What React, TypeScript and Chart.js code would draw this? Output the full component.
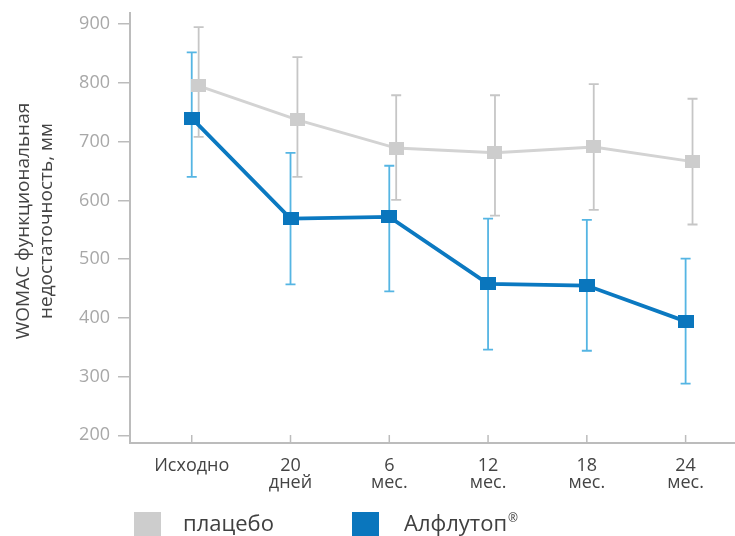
import React, { useEffect, useRef } from "react";
import { Chart, registerables } from "chart.js";

Chart.register(...registerables);

// ---- data ----
const categories: string[][] = [
  ["Исходно"],
  ["20", "дней"],
  ["6", "мес."],
  ["12", "мес."],
  ["18", "мес."],
  ["24", "мес."],
];
const seriesNames = ["плацебо", "Алфлутоп®"];
const placeboMean = [795, 737, 689, 681, 691, 666];
const placeboUpper = [895, 844, 779, 779, 798, 773];
const placeboLower = [708, 640, 601, 574, 584, 559];
const alflutopMean = [740, 569, 572, 458, 455, 394];
const alflutopUpper = [852, 681, 659, 569, 567, 501];
const alflutopLower = [640, 457, 445, 346, 344, 288];
const yTicks = [200, 300, 400, 500, 600, 700, 800, 900];
const yTitle = ["WOMAC функциональная", "недостаточность, мм"];

// ---- style ----
const FONT = "'Open Sans', 'Noto Sans', sans-serif";
const GRAY_LINE = "#d3d3d3";
const GRAY_MARK = "#cdcdcd";
const GRAY_ERR = "#c6c6c6";
const BLUE_LINE = "#0b79c1";
const BLUE_MARK = "#0a76bd";
const BLUE_ERR = "#55b5e3";
const AXIS = "#bcbcbc";
const DODGE_PLACEBO = 0.07;
const DODGE_ALFLUTOP = 0;

function makeMarker(color: string, w: number, h: number) {
  const c = document.createElement("canvas");
  c.width = w;
  c.height = h;
  const g = c.getContext("2d")!;
  g.fillStyle = color;
  g.fillRect(0, 0, w, h);
  return c;
}

export default function App() {
  const ref = useRef<HTMLCanvasElement | null>(null);

  useEffect(() => {
    document.body.style.margin = "0";
    const canvas = ref.current!;
    const grayMarker = makeMarker(GRAY_MARK, 15, 13);
    const blueMarker = makeMarker(BLUE_MARK, 16, 13);

    const errSets = [
      { upper: placeboUpper, lower: placeboLower, color: GRAY_ERR, dodge: DODGE_PLACEBO },
      { upper: alflutopUpper, lower: alflutopLower, color: BLUE_ERR, dodge: DODGE_ALFLUTOP },
    ];

    const errorBars = {
      id: "errorBars",
      beforeDatasetsDraw(chart: any) {
        const { ctx, scales } = chart;
        const xs = scales.x;
        const ys = scales.y;
        ctx.save();
        errSets.forEach((s) => {
          ctx.strokeStyle = s.color;
          ctx.lineWidth = 1.8;
          s.upper.forEach((u, i) => {
            const x = xs.getPixelForValue(i + s.dodge);
            const yt = ys.getPixelForValue(u);
            const yb = ys.getPixelForValue(s.lower[i]);
            ctx.beginPath();
            ctx.moveTo(x, yt);
            ctx.lineTo(x, yb);
            ctx.moveTo(x - 5, yt);
            ctx.lineTo(x + 5, yt);
            ctx.moveTo(x - 5, yb);
            ctx.lineTo(x + 5, yb);
            ctx.stroke();
          });
        });
        // x tick marks pointing up into the plot
        ctx.strokeStyle = AXIS;
        ctx.lineWidth = 1.5;
        const bottom = chart.chartArea.bottom;
        categories.forEach((_, i) => {
          const x = xs.getPixelForValue(i);
          ctx.beginPath();
          ctx.moveTo(x, bottom);
          ctx.lineTo(x, bottom - 8);
          ctx.stroke();
        });
        ctx.restore();
      },
    };

    const decorations = {
      id: "decorations",
      afterDraw(chart: any) {
        const { ctx } = chart;
        ctx.save();
        // y axis title
        ctx.fillStyle = "#444444";
        ctx.font = `19px ${FONT}`;
        ctx.textAlign = "center";
        ctx.textBaseline = "middle";
        const titleX = [24, 47];
        yTitle.forEach((t, i) => {
          ctx.save();
          ctx.translate(titleX[i], 221);
          ctx.rotate(-Math.PI / 2);
          ctx.fillText(t, 0, 0);
          ctx.restore();
        });
        // legend
        const legendBoxX = [134, 352];
        const legendTextX = [183, 404];
        const colors = [GRAY_MARK, BLUE_MARK];
        ctx.textAlign = "left";
        ctx.textBaseline = "alphabetic";
        seriesNames.forEach((name, i) => {
          ctx.fillStyle = colors[i];
          ctx.fillRect(legendBoxX[i], 512, 27, 26);
          ctx.fillStyle = "#404040";
          ctx.font = `22px ${FONT}`;
          const hasMark = name.endsWith("®");
          const main = hasMark ? name.slice(0, -1) : name;
          ctx.fillText(main, legendTextX[i], 531);
          if (hasMark) {
            const w = ctx.measureText(main).width;
            ctx.font = `12px ${FONT}`;
            ctx.fillText("®", legendTextX[i] + w + 1, 522);
          }
        });
        ctx.restore();
      },
    };

    const chart = new Chart(canvas, {
      type: "line",
      data: {
        datasets: [
          {
            label: seriesNames[0],
            data: placeboMean.map((v, i) => ({ x: i + DODGE_PLACEBO, y: v })),
            borderColor: GRAY_LINE,
            borderWidth: 3,
            pointStyle: grayMarker as any,
            pointRadius: 8,
            order: 2,
          },
          {
            label: seriesNames[1],
            data: alflutopMean.map((v, i) => ({ x: i + DODGE_ALFLUTOP, y: v })),
            borderColor: BLUE_LINE,
            borderWidth: 3.8,
            pointStyle: blueMarker as any,
            pointRadius: 8,
            order: 1,
          },
        ],
      },
      options: {
        responsive: false,
        animation: false,
        layout: { autoPadding: false, padding: { top: 13, left: 0, right: 0, bottom: 0 } },
        plugins: {
          legend: { display: false },
          tooltip: { enabled: false },
        },
        scales: {
          x: {
            type: "linear",
            min: -0.625,
            max: 5.5,
            afterBuildTicks: (s: any) => {
              s.ticks = categories.map((_, i) => ({ value: i }));
            },
            afterFit: (s: any) => {
              s.height = 93;
              s.paddingLeft = 0;
              s.paddingRight = 0;
            },
            ticks: {
              autoSkip: false,
              maxRotation: 0,
              padding: 14,
              color: "#444444",
              font: { family: FONT, size: 18, lineHeight: 0.95 },
              callback: (v: any) => categories[Math.round(Number(v))] as any,
            },
            grid: { display: false, drawTicks: false },
            border: { display: true, color: AXIS, width: 2 },
          },
          y: {
            type: "linear",
            min: 187,
            max: 919,
            afterBuildTicks: (s: any) => {
              s.ticks = yTicks.map((v) => ({ value: v }));
            },
            afterFit: (s: any) => {
              s.width = 130;
              s.paddingTop = 0;
              s.paddingBottom = 0;
            },
            ticks: {
              padding: 8,
              color: "#a8a8a8",
              font: { family: FONT, size: 18 },
            },
            grid: {
              drawOnChartArea: false,
              drawTicks: true,
              tickLength: 12,
              color: AXIS,
              lineWidth: 1.5,
            },
            border: { display: true, color: AXIS, width: 2 },
          },
        },
      },
      plugins: [errorBars, decorations],
    });

    return () => chart.destroy();
  }, []);

  return <canvas ref={ref} width={735} height={536} style={{ display: "block" }} />;
}
